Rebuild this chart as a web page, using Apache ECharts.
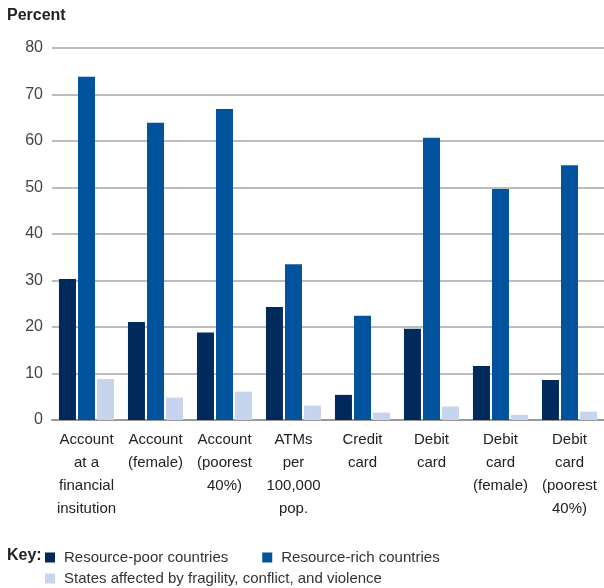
<!DOCTYPE html>
<html>
<head>
<meta charset="utf-8">
<script src="https://cdn.jsdelivr.net/npm/echarts@6/dist/echarts.min.js"></script>
<style>
html,body{margin:0;padding:0;background:#fff;}
#chart{width:604px;height:588px;}
</style>
</head>
<body>
<div id="chart"></div>
<script>
const categories = [
  "Account\nat a\nfinancial\ninsitution",
  "Account\n(female)",
  "Account\n(poorest\n40%)",
  "ATMs\nper\n100,000\npop.",
  "Credit\ncard",
  "Debit\ncard",
  "Debit\ncard\n(female)",
  "Debit\ncard\n(poorest\n40%)"
];
const seriesNames = [
  "Resource-poor countries",
  "Resource-rich countries",
  "States affected by fragility, conflict, and violence"
];
const resourcePoor = [30.3, 21.1, 18.8, 24.3, 5.4, 19.6, 11.6, 8.6];
const resourceRich = [73.8, 63.9, 66.9, 33.5, 22.4, 60.7, 49.7, 54.8];
const fragile = [8.8, 4.8, 6.1, 3.1, 1.6, 2.9, 1.1, 1.8];
const yTicks = [0, 10, 20, 30, 40, 50, 60, 70, 80];
const colors = ["#00295c", "#00539c", "#c6d4ed"];

const font = "'Liberation Sans', Arial, sans-serif";
const chart = echarts.init(document.getElementById('chart'), null, {renderer: 'canvas'});
const values = [resourcePoor, resourceRich, fragile];
const legendText = {fontSize: 15, color: '#333', fontFamily: font, padding: [0, 0, 0, 4]};
chart.setOption({
  animation: false,
  color: colors,
  textStyle: {fontFamily: font},
  grid: {left: 52, right: 0, top: 48, bottom: 168, containLabel: false},
  graphic: [
    {type: 'text', left: 7, top: 8, style: {text: 'Percent', font: "bold 16px 'Liberation Sans', Arial, sans-serif", fill: '#222'}},
    {type: 'text', left: 7, top: 548, style: {text: 'Key:', font: "bold 16px 'Liberation Sans', Arial, sans-serif", fill: '#222'}}
  ],
  legend: [
    {data: [seriesNames[0], seriesNames[1]], left: 40, top: 545, itemWidth: 10, itemHeight: 10, itemGap: 34, icon: 'rect',
     textStyle: legendText},
    {data: [seriesNames[2]], left: 40, top: 566, itemWidth: 10, itemHeight: 10, icon: 'rect',
     textStyle: legendText}
  ],
  xAxis: {
    type: 'category',
    data: categories,
    axisTick: {show: false},
    axisLine: {lineStyle: {color: '#999', width: 2}},
    axisLabel: {interval: 0, fontSize: 15, lineHeight: 23, color: '#222', margin: 8, fontFamily: font}
  },
  yAxis: {
    type: 'value',
    min: yTicks[0],
    max: yTicks[yTicks.length - 1],
    interval: 10,
    axisLine: {show: false},
    axisTick: {show: false},
    axisLabel: {fontSize: 16, color: '#444', margin: 9, fontFamily: font},
    splitLine: {lineStyle: {color: '#a6a6a6', width: 1.5}}
  },
  series: seriesNames.map((n, i) => ({
    name: n,
    type: 'bar',
    data: values[i],
    barWidth: 17,
    barGap: '12%',
    itemStyle: {color: colors[i]}
  }))
});
</script>
</body>
</html>
